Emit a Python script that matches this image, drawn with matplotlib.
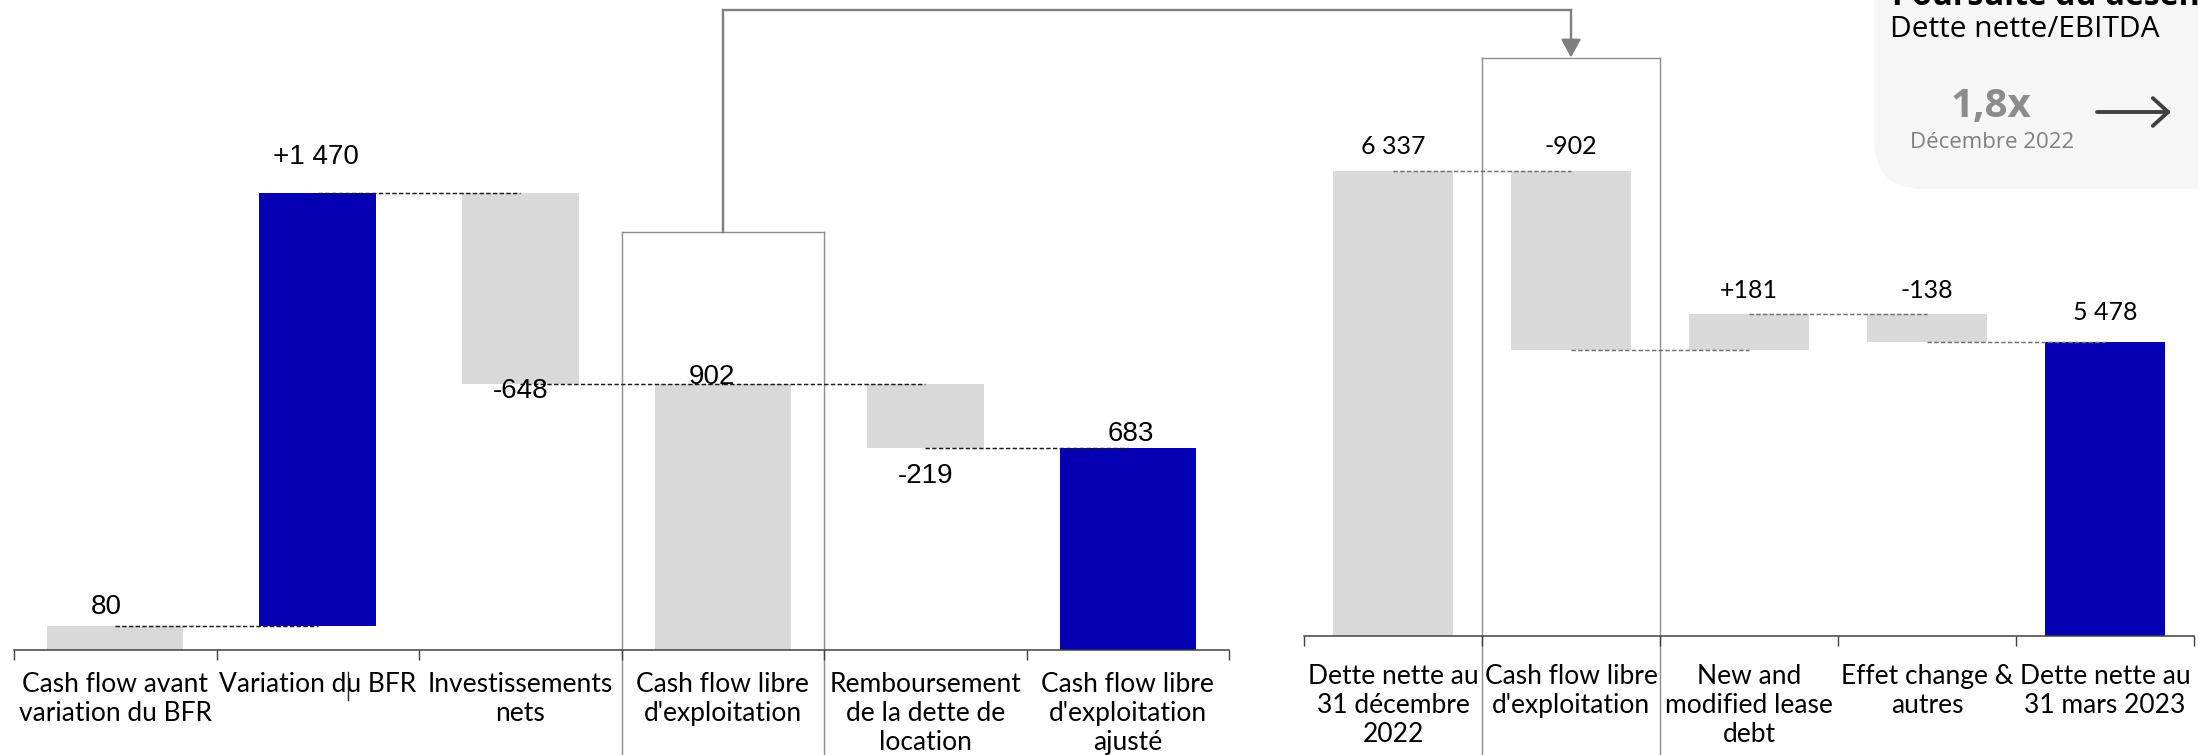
import numpy as np
import matplotlib.pyplot as plt
from matplotlib.patches import FancyBboxPatch, FancyArrowPatch
from matplotlib.lines import Line2D

# ---- Free cash flow bridge (left) ----
fcf_labels = ["Cash flow avant\nvariation du BFR", "Variation du BFR", "Investissements\nnets",
              "Cash flow libre\nd'exploitation", "Remboursement\nde la dette de\nlocation",
              "Cash flow libre\nd'exploitation\najusté"]
fcf_values = [80, 1470, -648, 902, -219, 683]
fcf_is_total = [True, False, False, True, False, True]
fcf_value_text = ["80", "+1 470", "-648", "902", "-219", "683"]

# ---- Net debt bridge (right) ----
debt_labels = ["Dette nette au\n31 décembre\n2022", "Cash flow libre\nd'exploitation",
               "New and\nmodified lease\ndebt", "Effet change &\nautres", "Dette nette au\n31 mars 2023"]
debt_values = [6337, -902, 181, -138, 5478]
debt_is_total = [True, False, False, False, True]
debt_value_text = ["6 337", "-902", "+181", "-138", "5 478"]

# ---- Leverage panel ----
leverage_title = "Poursuite du désendettement"
leverage_subtitle = "Dette nette/EBITDA"
leverage_value = "1,8x"
leverage_period = "Décembre 2022"

GREY = "#d9d9d9"
BLUE = "#0600b4"
fcf_colors = [GREY, BLUE, GREY, GREY, GREY, BLUE]
debt_colors = [GREY, GREY, GREY, GREY, BLUE]

W, H = 2198, 755
fig = plt.figure(figsize=(W / 100, H / 100), dpi=100)
fig.patch.set_facecolor("white")


def px_box(x0, x1, y_axis):
    """Axes rectangle from pixel columns and the pixel row of the baseline (measured from the top)."""
    return [x0 / W, (H - y_axis) / H, (x1 - x0) / W, y_axis / H]


def waterfall(values, is_total, base):
    bottoms, tops = [], []
    level = base
    for v, tot in zip(values, is_total):
        if tot:
            b, t = base, v
        else:
            b, t = level, level + v
        level = t
        bottoms.append(b)
        tops.append(t)
    return np.array(bottoms), np.array(tops)


def style_axis(ax, n, labels, pad):
    for s in ("top", "left", "right"):
        ax.spines[s].set_visible(False)
    ax.spines["bottom"].set_color("#404040")
    ax.spines["bottom"].set_linewidth(1.1)
    ax.set_xlim(0, n)
    ax.set_yticks([])
    ax.set_xticks(np.arange(n + 1), minor=True)
    ax.tick_params(axis="x", which="minor", length=7.5, width=1.0, color="#404040", direction="out")
    ax.set_xticks(np.arange(n) + 0.5)
    ax.set_xticklabels(labels, fontfamily="Lato", fontsize=19, linespacing=1.2)
    ax.tick_params(axis="x", which="major", length=0, pad=pad)
    ax.patch.set_alpha(0)


def connectors(ax, tops, color, lw):
    # dashed link from the end level of each bar to the centre of the next one
    for i in range(len(tops) - 1):
        ax.plot([i + 0.5, i + 1.5], [tops[i], tops[i]], color=color, lw=lw,
                dashes=(3.0, 1.6), zorder=3, solid_capstyle="butt")


# ---------------- left chart ----------------
ax1 = fig.add_axes(px_box(14, 1229, 650))
n1 = len(fcf_values)
ax1.set_ylim(0, 2203)
b1, t1 = waterfall(fcf_values, fcf_is_total, 0)
x1 = np.arange(n1) + 0.5
w1 = [0.67 if tot else 0.58 for tot in fcf_is_total]
ax1.bar(x1, t1 - b1, bottom=b1, width=w1, color=fcf_colors, zorder=2)
connectors(ax1, t1, "#1a1a1a", 1.05)
style_axis(ax1, n1, fcf_labels, 16)

# value labels: offsets (pixels) from the bar's upper or lower edge
left_dy = [19, 36, -7, 7, -28, 14]
left_dx = [-9, -2, 0, -11, 0, 3]
for i, txt in enumerate(fcf_value_text):
    anchor = min(b1[i], t1[i]) if left_dy[i] < 0 else max(b1[i], t1[i])
    ax1.annotate(txt, (x1[i], anchor), xytext=(left_dx[i] / 1.389, left_dy[i] / 1.389),
                 textcoords="offset points", ha="center", va="center",
                 fontfamily="Liberation Sans", fontsize=20, color="black", zorder=5)

# highlight frame around the free cash flow column
box1_top = 1416
for xx in (3, 4):
    ax1.plot([xx, xx], [box1_top, -2000], color="#8c8c8c", lw=1.0, clip_on=False, zorder=1)
ax1.plot([3, 4], [box1_top, box1_top], color="#8c8c8c", lw=1.0, clip_on=False, zorder=1)

# ---------------- right chart ----------------
ax2 = fig.add_axes(px_box(1304, 2194, 636))
n2 = len(debt_values)
base2 = 4000
ax2.set_ylim(base2, 7196)
b2, t2 = waterfall(debt_values, debt_is_total, base2)
x2 = np.arange(n2) + 0.5
ax2.bar(x2, t2 - b2, bottom=b2, width=0.67, color=debt_colors, zorder=2)
connectors(ax2, t2, "#6e6e6e", 1.05)
style_axis(ax2, n2, debt_labels, 20.5)

right_dy = [24, 24, 24, 24, 29]
for i, txt in enumerate(debt_value_text):
    ax2.annotate(txt, (x2[i], max(b2[i], t2[i])), xytext=(0, right_dy[i] / 1.389),
                 textcoords="offset points", ha="center", va="center",
                 fontfamily="Lato", fontsize=18, color="black", zorder=5)

box2_top = 6907
for xx in (1, 2):
    ax2.plot([xx, xx], [box2_top, 0], color="#8c8c8c", lw=1.0, clip_on=False, zorder=1)
ax2.plot([1, 2], [box2_top, box2_top], color="#8c8c8c", lw=1.0, clip_on=False, zorder=1)

# ---------------- link between the two free cash flow columns ----------------
inv = fig.transFigure.inverted()
p_start = inv.transform(ax1.transData.transform((3.5, box1_top)))
p_end = inv.transform(ax2.transData.transform((1.5, box2_top)))
y_link = 1 - 10 / H
fig.add_artist(Line2D([p_start[0], p_start[0], p_end[0]], [p_start[1], y_link, y_link],
                      transform=fig.transFigure, color="#7f7f7f", lw=1.7,
                      solid_joinstyle="miter"))
fig.add_artist(FancyArrowPatch((p_end[0], y_link), (p_end[0], p_end[1]),
                               transform=fig.transFigure,
                               arrowstyle="-|>,head_length=0.55,head_width=0.3",
                               mutation_scale=20, color="#7f7f7f", lw=1.7,
                               shrinkA=0, shrinkB=0))

# small stray tick inside the category labels
fig.add_artist(Line2D([348 / W, 348 / W], [1 - 672 / H, 1 - 700 / H],
                      transform=fig.transFigure, color="#222222", lw=1.0))

# ---------------- leverage card (top right) ----------------
card = FancyBboxPatch((18.74, (H - 189) / 100), 5.0, 4.0,
                      boxstyle="round,pad=0,rounding_size=0.5",
                      transform=fig.dpi_scale_trans, facecolor="#f6f6f6",
                      edgecolor="none", zorder=0)
fig.add_artist(card)
fig.text(1892 / W, 1 - 5 / H, leverage_title, fontfamily="Open Sans", fontweight="bold",
         fontsize=23, color="black", ha="left", va="baseline")
fig.text(1890 / W, 1 - 37 / H, leverage_subtitle, fontfamily="Open Sans",
         fontsize=21.5, color="black", ha="left", va="baseline")
fig.text(1991 / W, 1 - 117 / H, leverage_value, fontfamily="Open Sans", fontweight="bold",
         fontsize=29, color="#8c8c8c", ha="center", va="baseline")
fig.text(1992 / W, 1 - 148 / H, leverage_period, fontfamily="Open Sans",
         fontsize=16, color="#808080", ha="center", va="baseline")
fig.add_artist(FancyArrowPatch((2097 / W, 1 - 112 / H), (2171 / W, 1 - 112 / H),
                               transform=fig.transFigure,
                               arrowstyle="->,head_length=0.55,head_width=0.5",
                               mutation_scale=20, color="#404040", lw=2.8,
                               shrinkA=0, shrinkB=0, capstyle="round", joinstyle="round"))

fig.savefig("out.png", dpi=100, facecolor="white")
